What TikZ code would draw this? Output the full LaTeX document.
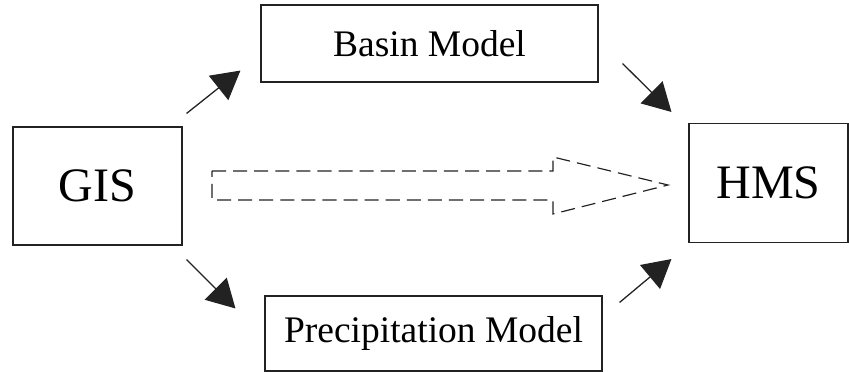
\documentclass[tikz,border=0pt]{standalone}
\usepackage{fontspec}
\setmainfont{Liberation Serif}
\usetikzlibrary{arrows.meta}
\definecolor{ink}{RGB}{34,34,34}

\begin{document}
\begin{tikzpicture}[x=0.03cm,y=-0.03cm,
    box/.style={draw=ink,line width=0.9pt,inner sep=0pt},
    bigbox/.style={box,font=\fontsize{41}{48}\selectfont},
    modelbox/.style={box,font=\fontsize{32}{38}\selectfont,minimum width=10.11cm},
    flow/.style={draw=ink,line width=1.1pt,-{Triangle[length=0.84cm,width=0.93cm]}}]
    \useasboundingbox (0,0) rectangle (849,372);
    \node[bigbox,minimum width=5.07cm,minimum height=3.54cm] (gis) at (97.5,186) {GIS};
    \node[bigbox,minimum width=4.77cm,minimum height=3.57cm] (hms) at (768.5,183) {HMS};
    \node[modelbox,minimum height=2.31cm] (basin) at (429.5,43.5) {Basin Model};
    \node[modelbox,minimum height=2.25cm] (precip) at (433.5,333.5) {Precipitation Model};

    \draw[flow] ([shift={(4,-13)}]gis.north east) -- ([shift={(-20,-12)}]basin.south west);
    \draw[flow] ([shift={(4,14)}]gis.south east) -- ([shift={(-29,13)}]precip.north west);
    \draw[flow] ([shift={(24,-19)}]basin.south east) -- ([shift={(-17,-11)}]hms.north west);
    \draw[flow] ([shift={(17,7)}]precip.north east) -- ([shift={(-17,16)}]hms.south west);
    %hollow dashed arrow
    \draw[ink,line width=1pt,dash pattern=on 12pt off 6pt]
        (212,171) -- (553,171) -- (553,157) -- (668,185) -- (553,214) -- (553,200) -- (212,200) -- cycle;
\end{tikzpicture}
\end{document}
